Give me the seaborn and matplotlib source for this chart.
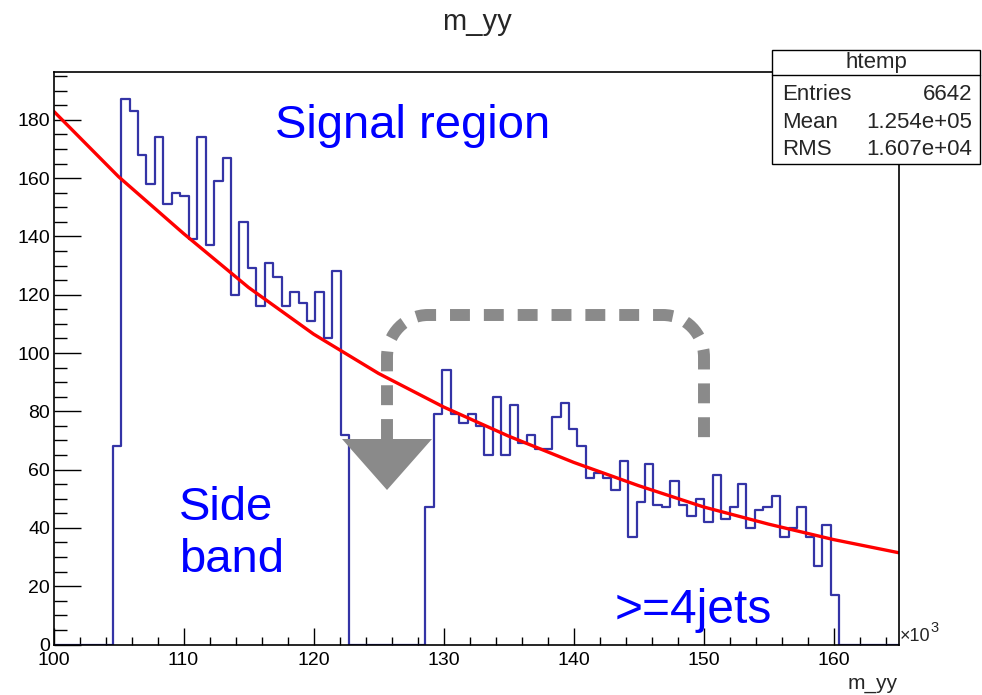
import numpy as np
import pandas as pd
import matplotlib
matplotlib.use("Agg")
import matplotlib.pyplot as plt
import seaborn as sns
from matplotlib.path import Path
from matplotlib.patches import PathPatch, Polygon, Rectangle
from matplotlib.lines import Line2D
from matplotlib.ticker import MultipleLocator

# ---------------- data ----------------
x_min, x_max, n_bins = 100.0, 165.0, 100          # m_yy in units of 10^3
counts_low = [0, 0, 0, 0, 0, 0, 0,
              68, 187, 183, 168, 158, 174, 151, 155, 154, 139, 174, 137, 159,
              167, 120, 145, 129, 116, 131, 126, 116, 121, 117, 111, 121, 105,
              128, 72]
counts_gap = [0, 0, 0, 0, 0, 0, 0, 0, 0]
counts_high = [47, 79, 94, 79, 76, 79, 75, 65, 85, 65, 82, 69, 72, 67, 67, 78,
               83, 74, 68, 57, 59, 57, 53, 63, 37, 49, 62, 48, 47, 56, 48, 44,
               50, 42, 58, 43, 47, 55, 40, 46, 47, 51, 37, 40, 47, 37, 27, 41,
               17, 0, 0, 0, 0, 0, 0, 0]
counts = counts_low + counts_gap + counts_high

fit_x = [100, 105, 110, 115, 120, 125, 130, 135, 140, 145, 150, 155, 160, 165]
fit_y = [183, 160.5, 141, 122.5, 106.5, 93, 81.5, 71.5, 62.5, 54.5, 47.2, 41.3, 36, 31.5]

stats_names = ["Entries", "Mean", "RMS"]
stats_values = ["6642", "1.254e+05", "1.607e+04"]

# ---------------- figure ----------------
sns.set_style("white")
plt.rcParams["font.family"] = ["Liberation Sans", "DejaVu Sans"]

W, H = 982, 695
fig = plt.figure(figsize=(W / 100, H / 100), dpi=100)


def fx(px):
    return px / W


def fy(py):
    return 1 - py / H


ax = fig.add_axes([fx(53.5), fy(644.5), fx(898.5) - fx(53.5), fy(72) - fy(644.5)])

edges = np.linspace(x_min, x_max, n_bins + 1)
centers = (edges[:-1] + edges[1:]) / 2
df = pd.DataFrame({"m_yy": centers, "n": counts})
sns.histplot(data=df, x="m_yy", weights="n", bins=n_bins, binrange=(x_min, x_max),
             element="step", fill=False, color="#3434a6", linewidth=1.6, ax=ax)

fit_df = pd.DataFrame({"x": fit_x, "y": fit_y})
sns.lineplot(data=fit_df, x="x", y="y", color="#ff0000", linewidth=2.4, ax=ax)

ax.set_xlim(x_min, x_max)
ax.set_ylim(0, 196.4)
ax.set_xlabel("")
ax.set_ylabel("")
for s in ax.spines.values():
    s.set_color("black")
    s.set_linewidth(1.2)
    s.set_zorder(3)

ax.xaxis.set_major_locator(MultipleLocator(10))
ax.xaxis.set_minor_locator(MultipleLocator(2))
ax.yaxis.set_major_locator(MultipleLocator(20))
ax.yaxis.set_minor_locator(MultipleLocator(5))
ax.tick_params(axis="both", which="both", direction="in", bottom=True, left=True,
               top=False, right=False, color="black", width=1.0, labelcolor="black")
ax.tick_params(axis="x", which="major", length=12.2, pad=5.5, labelsize=14)
ax.tick_params(axis="x", which="minor", length=5.8)
ax.tick_params(axis="y", which="major", length=19.4, pad=2.5, labelsize=14)
ax.tick_params(axis="y", which="minor", length=9.4)

# axis decorations (ROOT style)
fig.text(fx(900), fy(641), "\u00d710", ha="left", va="baseline", fontsize=13)
fig.text(fx(930.5), fy(632), "3", ha="left", va="baseline", fontsize=10.5)
fig.text(fx(898), fy(689), "m_yy", ha="right", va="baseline", fontsize=15)
fig.text(fx(477), fy(30), "m_yy", ha="center", va="baseline", fontsize=21)

# stats box
bx0, by0, bx1, by1 = 771.5, 49.5, 980, 163.5
fig.add_artist(Rectangle((fx(bx0), fy(by1)), fx(bx1) - fx(bx0), fy(by0) - fy(by1),
                         transform=fig.transFigure, facecolor="white",
                         edgecolor="black", linewidth=1.0, zorder=10))
fig.add_artist(Line2D([fx(bx0), fx(bx1)], [fy(75), fy(75)], transform=fig.transFigure,
                      color="black", linewidth=1.0, zorder=11))
fig.text(fx(876), fy(68), "htemp", ha="center", va="baseline", fontsize=16, zorder=12)
for i, (nm, val) in enumerate(zip(stats_names, stats_values)):
    yb = 100 + i * 27.5
    fig.text(fx(782), fy(yb), nm, ha="left", va="baseline", fontsize=16, zorder=12)
    fig.text(fx(972), fy(yb), val, ha="right", va="baseline", fontsize=16, zorder=12)

# annotations
blue = "#0000ff"
fig.text(fx(275), fy(138), "Signal region", ha="left", va="baseline", fontsize=34, color=blue)
fig.text(fx(179), fy(520), "Side", ha="left", va="baseline", fontsize=34, color=blue)
fig.text(fx(179), fy(572), "band", ha="left", va="baseline", fontsize=34, color=blue)
fig.text(fx(615), fy(623), ">=4jets", ha="left", va="baseline", fontsize=34.5, color=blue)

gray = "#8a8a8a"
k = 0.5523
pts_px = [
    (387, 439), (387, 357),
    (387, 357 - k * 42), (428 - k * 41, 315), (428, 315),
    (663, 315),
    (663 + k * 41, 315), (704, 357 - k * 42), (704, 357),
    (704, 446),
]
codes = [Path.MOVETO, Path.LINETO,
         Path.CURVE4, Path.CURVE4, Path.CURVE4,
         Path.LINETO,
         Path.CURVE4, Path.CURVE4, Path.CURVE4,
         Path.LINETO]
path = Path([(fx(a), fy(b)) for a, b in pts_px], codes)
fig.add_artist(PathPatch(path, transform=fig.transFigure, fill=False, edgecolor=gray,
                         linewidth=8.6, linestyle=(0, (20 / 12, 14 / 12)),
                         capstyle="butt", zorder=5))
tri = [(342, 439), (432, 439), (387, 490)]
fig.add_artist(Polygon([(fx(a), fy(b)) for a, b in tri], closed=True,
                       transform=fig.transFigure, facecolor=gray, edgecolor="none",
                       zorder=5))

fig.savefig("out.png", dpi=100, facecolor="white")
